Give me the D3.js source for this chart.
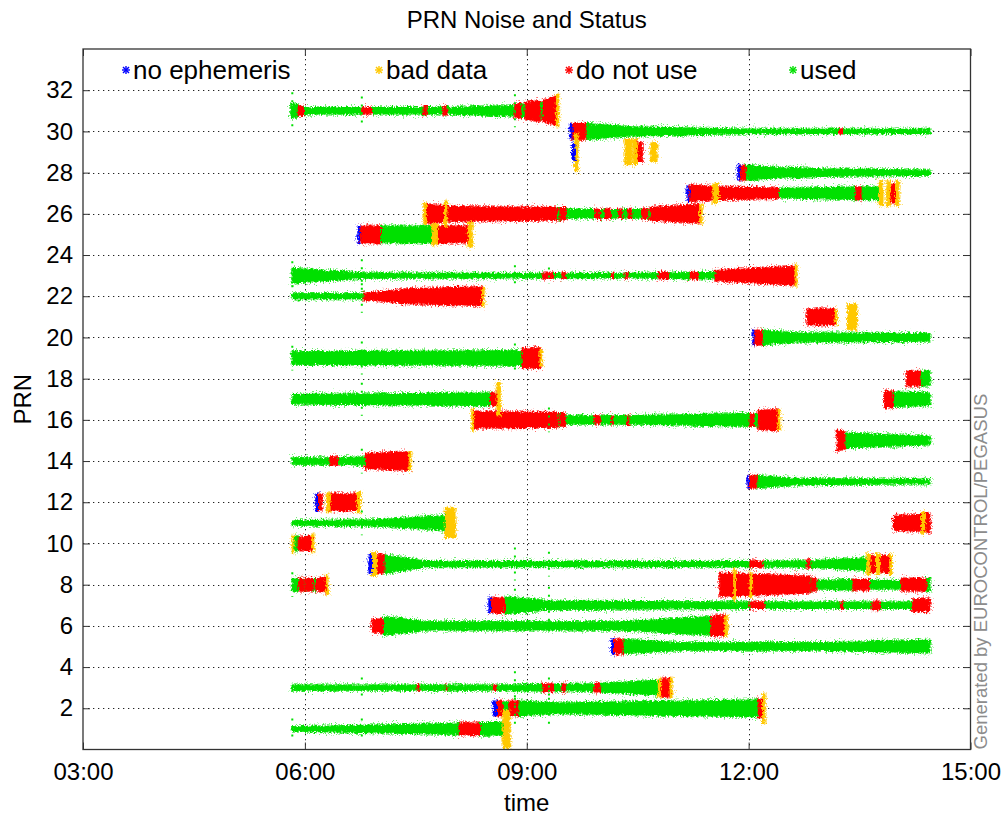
<!DOCTYPE html>
<html><head><meta charset="utf-8">
<script src="https://cdn.jsdelivr.net/npm/d3@7"></script>
<style>
html,body{margin:0;padding:0;background:#fff;}
svg{display:block;font-family:"Liberation Sans",Arial,Helvetica,sans-serif;}
</style></head>
<body>
<svg id="chart" width="1006" height="818"></svg>
<script>
// ---- tick labels / categories ----
const xTickHours = [3, 6, 9, 12, 15];
const xTickLabels = ["03:00", "06:00", "09:00", "12:00", "15:00"];
const yTicks = [2, 4, 6, 8, 10, 12, 14, 16, 18, 20, 22, 24, 26, 28, 30, 32];
const statusNames = ["no ephemeris", "bad data", "do not use", "used"];

// ---- noise band segments: [PRN, start hour, end hour, half-width at start, half-width at end] ----
const noEphemeris = [
  [30, 9.59, 9.61, 0.35, 0.35], [29, 9.62, 9.65, 0.4, 0.4], [28, 11.86, 11.88, 0.35, 0.35],
  [27, 11.17, 11.19, 0.35, 0.35], [25, 6.72, 6.74, 0.4, 0.4], [20, 12.06, 12.07, 0.35, 0.35],
  [13, 11.99, 12.00, 0.3, 0.3], [12, 6.15, 6.17, 0.4, 0.4], [9, 6.87, 6.90, 0.45, 0.45],
  [7, 8.49, 8.51, 0.35, 0.35], [5, 10.15, 10.17, 0.35, 0.35], [2, 8.55, 8.59, 0.35, 0.35]
];
const badData = [
  [31, 9.40, 9.43, 0.7, 0.8], [29, 9.65, 9.69, 0.9, 0.9], [29, 10.33, 10.42, 0.6, 0.6],
  [29, 10.44, 10.49, 0.6, 0.6], [29, 10.68, 10.76, 0.45, 0.45], [27, 11.52, 11.59, 0.45, 0.45],
  [27, 13.77, 13.81, 0.6, 0.6], [27, 13.87, 13.91, 0.6, 0.6], [27, 13.99, 14.03, 0.6, 0.6],
  [26, 7.61, 7.64, 0.5, 0.5], [26, 7.89, 7.92, 0.6, 0.6], [26, 11.34, 11.37, 0.45, 0.45],
  [25, 7.72, 7.79, 0.5, 0.5], [25, 8.21, 8.26, 0.6, 0.6], [23, 12.63, 12.65, 0.5, 0.5],
  [22, 8.40, 8.42, 0.45, 0.45], [21, 13.17, 13.19, 0.38, 0.38], [21, 13.34, 13.46, 0.6, 0.6],
  [19, 9.18, 9.20, 0.4, 0.4], [17, 8.60, 8.64, 0.8, 0.8], [16, 8.26, 8.28, 0.5, 0.5],
  [16, 12.40, 12.42, 0.5, 0.5], [14, 7.41, 7.43, 0.45, 0.45], [12, 6.30, 6.34, 0.45, 0.45],
  [12, 6.71, 6.75, 0.5, 0.5], [11, 7.90, 8.03, 0.7, 0.7], [11, 14.34, 14.38, 0.5, 0.5],
  [10, 5.83, 5.85, 0.4, 0.4], [10, 6.10, 6.12, 0.45, 0.45], [9, 6.90, 6.97, 0.55, 0.55],
  [9, 13.60, 13.64, 0.5, 0.5], [9, 13.73, 13.77, 0.5, 0.5], [9, 13.91, 13.93, 0.5, 0.5],
  [8, 6.29, 6.31, 0.5, 0.5], [8, 11.80, 11.82, 0.8, 0.8], [8, 12.02, 12.04, 0.6, 0.6],
  [6, 11.68, 11.71, 0.5, 0.5], [3, 10.78, 10.81, 0.45, 0.45], [3, 10.94, 10.96, 0.45, 0.45],
  [2, 12.19, 12.22, 0.7, 0.7], [1, 8.68, 8.77, 0.9, 0.9]
];
const doNotUse = [
  [31, 5.91, 5.98, 0.22, 0.22], [31, 6.77, 6.90, 0.15, 0.15], [31, 7.60, 7.65, 0.2, 0.2],
  [31, 7.87, 7.92, 0.2, 0.2], [31, 8.84, 8.92, 0.3, 0.35], [31, 8.98, 9.18, 0.4, 0.5],
  [31, 9.22, 9.40, 0.5, 0.7],
  [30, 9.61, 9.80, 0.38, 0.38], [30, 13.23, 13.27, 0.12, 0.12],
  [29, 10.49, 10.56, 0.45, 0.45],
  [28, 11.88, 11.96, 0.35, 0.35],
  [27, 11.19, 11.52, 0.4, 0.32], [27, 11.59, 12.40, 0.3, 0.25], [27, 13.45, 13.52, 0.3, 0.3],
  [27, 13.92, 13.99, 0.45, 0.45],
  [26, 7.64, 7.88, 0.45, 0.4], [26, 7.92, 9.41, 0.35, 0.3], [26, 9.45, 9.53, 0.3, 0.3],
  [26, 9.92, 9.99, 0.22, 0.22], [26, 10.06, 10.13, 0.22, 0.22], [26, 10.24, 10.29, 0.22, 0.22],
  [26, 10.37, 10.42, 0.22, 0.22], [26, 10.56, 10.63, 0.25, 0.25], [26, 10.67, 11.34, 0.3, 0.45],
  [25, 6.74, 7.02, 0.4, 0.4], [25, 7.79, 8.21, 0.4, 0.4],
  [23, 9.22, 9.36, 0.12, 0.12], [23, 9.48, 9.52, 0.12, 0.12], [23, 10.15, 10.17, 0.12, 0.12],
  [23, 10.33, 10.37, 0.12, 0.12], [23, 10.78, 10.91, 0.15, 0.15], [23, 11.21, 11.32, 0.15, 0.15],
  [23, 11.55, 12.63, 0.25, 0.45],
  [22, 6.80, 7.30, 0.15, 0.3], [22, 7.30, 8.40, 0.35, 0.45],
  [21, 12.79, 13.17, 0.38, 0.38],
  [20, 12.07, 12.18, 0.35, 0.35],
  [19, 8.94, 9.18, 0.45, 0.5],
  [18, 14.14, 14.32, 0.35, 0.35],
  [17, 8.51, 8.60, 0.3, 0.3], [17, 13.84, 13.95, 0.4, 0.4],
  [16, 8.28, 9.42, 0.4, 0.35], [16, 9.45, 9.52, 0.3, 0.3], [16, 9.92, 9.99, 0.2, 0.2],
  [16, 10.15, 10.17, 0.2, 0.2], [16, 10.36, 10.38, 0.22, 0.22], [16, 12.02, 12.07, 0.3, 0.3],
  [16, 12.13, 12.40, 0.45, 0.5],
  [15, 13.20, 13.30, 0.5, 0.4],
  [14, 6.34, 6.45, 0.2, 0.2], [14, 6.82, 7.41, 0.35, 0.45],
  [13, 12.00, 12.11, 0.3, 0.3],
  [12, 6.17, 6.23, 0.4, 0.4], [12, 6.34, 6.71, 0.4, 0.4],
  [11, 13.96, 14.34, 0.35, 0.4], [11, 14.38, 14.45, 0.45, 0.45],
  [10, 5.91, 6.10, 0.3, 0.35],
  [9, 6.97, 7.07, 0.45, 0.45], [9, 12.02, 12.19, 0.15, 0.15], [9, 12.79, 12.83, 0.2, 0.2],
  [9, 13.64, 13.73, 0.4, 0.4], [9, 13.77, 13.91, 0.4, 0.4],
  [8, 5.92, 5.99, 0.3, 0.3], [8, 6.01, 6.11, 0.3, 0.3], [8, 6.15, 6.29, 0.3, 0.35],
  [8, 11.61, 12.83, 0.55, 0.4], [8, 12.85, 12.91, 0.3, 0.3], [8, 13.41, 13.63, 0.25, 0.25],
  [8, 14.07, 14.40, 0.3, 0.3],
  [7, 8.51, 8.70, 0.35, 0.35], [7, 12.02, 12.21, 0.15, 0.15], [7, 13.24, 13.28, 0.15, 0.15],
  [7, 13.67, 13.77, 0.2, 0.2], [7, 14.22, 14.45, 0.3, 0.3],
  [6, 6.91, 7.06, 0.3, 0.3], [6, 11.49, 11.68, 0.45, 0.5],
  [5, 10.17, 10.30, 0.35, 0.35],
  [3, 7.52, 7.54, 0.12, 0.12], [3, 7.90, 7.92, 0.12, 0.12], [3, 8.55, 8.58, 0.12, 0.12],
  [3, 9.22, 9.36, 0.18, 0.18], [3, 9.48, 9.52, 0.18, 0.18], [3, 9.92, 9.99, 0.2, 0.2],
  [3, 10.81, 10.94, 0.4, 0.45],
  [2, 8.59, 8.67, 0.35, 0.35], [2, 8.76, 8.88, 0.35, 0.35], [2, 12.13, 12.19, 0.45, 0.45],
  [1, 8.09, 8.36, 0.28, 0.28]
];
const used = [
  [31, 5.81, 5.91, 0.32, 0.3], [31, 5.98, 6.77, 0.15, 0.15], [31, 6.90, 7.60, 0.15, 0.15],
  [31, 7.65, 7.87, 0.15, 0.15], [31, 7.92, 8.84, 0.15, 0.25], [31, 8.92, 8.98, 0.3, 0.3],
  [31, 9.18, 9.22, 0.4, 0.4],
  [30, 9.80, 10.40, 0.38, 0.22], [30, 10.40, 11.99, 0.22, 0.1], [30, 11.99, 13.23, 0.1, 0.1],
  [30, 13.27, 14.45, 0.1, 0.1],
  [28, 11.96, 12.55, 0.35, 0.2], [28, 12.55, 12.85, 0.25, 0.2], [28, 12.85, 14.45, 0.18, 0.12],
  [27, 12.40, 13.45, 0.22, 0.3], [27, 13.52, 13.76, 0.3, 0.3],
  [26, 9.41, 9.45, 0.3, 0.3], [26, 9.53, 9.92, 0.2, 0.2], [26, 9.99, 10.06, 0.2, 0.2],
  [26, 10.13, 10.24, 0.2, 0.2], [26, 10.29, 10.37, 0.2, 0.2], [26, 10.42, 10.56, 0.2, 0.2],
  [26, 10.63, 10.67, 0.25, 0.25],
  [25, 7.02, 7.72, 0.4, 0.4],
  [23, 5.83, 6.80, 0.35, 0.12], [23, 6.80, 9.22, 0.12, 0.1], [23, 9.36, 9.48, 0.1, 0.1],
  [23, 9.52, 10.15, 0.1, 0.1], [23, 10.17, 10.33, 0.1, 0.1], [23, 10.37, 10.78, 0.1, 0.12],
  [23, 10.91, 11.21, 0.12, 0.15], [23, 11.32, 11.55, 0.15, 0.15],
  [22, 5.83, 6.80, 0.12, 0.12],
  [20, 12.18, 12.60, 0.35, 0.22], [20, 12.60, 14.45, 0.22, 0.18],
  [19, 5.83, 8.94, 0.3, 0.35],
  [18, 14.32, 14.45, 0.35, 0.35],
  [17, 5.83, 8.51, 0.22, 0.3], [17, 13.95, 14.45, 0.35, 0.3],
  [16, 9.42, 9.45, 0.3, 0.3], [16, 9.52, 9.92, 0.2, 0.2], [16, 9.99, 10.15, 0.2, 0.2],
  [16, 10.17, 10.36, 0.2, 0.2], [16, 10.38, 12.02, 0.2, 0.3], [16, 12.07, 12.13, 0.3, 0.3],
  [15, 13.30, 14.45, 0.35, 0.2],
  [14, 5.83, 6.34, 0.15, 0.15], [14, 6.45, 6.82, 0.15, 0.2],
  [13, 12.11, 12.60, 0.3, 0.15], [13, 12.60, 14.45, 0.15, 0.1],
  [11, 5.83, 7.00, 0.1, 0.15], [11, 7.00, 7.90, 0.15, 0.35],
  [10, 5.85, 5.91, 0.35, 0.35],
  [9, 7.07, 7.60, 0.45, 0.15], [9, 7.60, 12.02, 0.12, 0.12], [9, 12.19, 12.79, 0.12, 0.15],
  [9, 12.83, 13.60, 0.15, 0.3],
  [8, 5.83, 5.92, 0.3, 0.3], [8, 5.99, 6.01, 0.3, 0.3], [8, 6.11, 6.15, 0.3, 0.3],
  [8, 12.83, 12.85, 0.3, 0.3], [8, 12.91, 13.41, 0.2, 0.25], [8, 13.63, 14.07, 0.2, 0.2],
  [8, 14.40, 14.45, 0.3, 0.3],
  [7, 8.70, 9.20, 0.4, 0.25], [7, 9.20, 12.02, 0.2, 0.15], [7, 12.21, 13.24, 0.15, 0.15],
  [7, 13.28, 13.67, 0.15, 0.15], [7, 13.77, 14.22, 0.15, 0.15],
  [6, 7.06, 7.60, 0.45, 0.22], [6, 7.60, 10.30, 0.2, 0.2], [6, 10.30, 11.49, 0.2, 0.45],
  [5, 10.30, 11.00, 0.35, 0.2], [5, 11.00, 13.00, 0.18, 0.18], [5, 13.00, 14.45, 0.18, 0.3],
  [3, 5.83, 7.52, 0.12, 0.12], [3, 7.54, 7.90, 0.12, 0.12], [3, 7.92, 8.55, 0.12, 0.12],
  [3, 8.58, 9.22, 0.12, 0.15], [3, 9.36, 9.48, 0.15, 0.15], [3, 9.52, 9.92, 0.15, 0.18],
  [3, 9.99, 10.78, 0.2, 0.35],
  [2, 8.67, 8.76, 0.3, 0.3], [2, 8.88, 9.40, 0.35, 0.25], [2, 9.40, 12.13, 0.25, 0.4],
  [1, 5.83, 7.90, 0.1, 0.25], [1, 7.90, 8.09, 0.25, 0.28], [1, 8.36, 8.68, 0.3, 0.3]
];
// sparse outlier columns of "used" samples: [PRN, hour, half-height]
const outlierSpikes = [
  [31, 5.83, 0.9], [23, 5.83, 0.7], [19, 5.83, 0.6], [8, 5.83, 0.6], [1, 5.83, 0.5],
  [31, 6.77, 0.7], [23, 6.77, 0.8], [22, 6.77, 0.8], [19, 6.77, 0.8], [17, 6.77, 0.8],
  [14, 6.77, 0.6], [11, 6.77, 0.6], [3, 6.77, 0.5], [1, 6.77, 0.5],
  [31, 8.84, 0.8], [23, 8.84, 0.5], [19, 8.84, 0.7], [9, 8.84, 0.8], [7, 8.84, 0.8],
  [3, 8.84, 0.8], [2, 8.84, 0.9],
  [23, 9.30, 0.4], [16, 9.30, 0.6], [9, 9.30, 0.6], [7, 9.30, 0.9], [3, 9.30, 0.5], [2, 9.30, 0.9]
];

// ---- layout ----
const W = 1006, H = 818;
const mLeft = 83, mRight = 970.5, mTop = 49, mBottom = 749.5;
const colors = {"no ephemeris": "#0000ff", "bad data": "#ffc800", "do not use": "#ff0000", "used": "#00e000"};

const x = d3.scaleLinear().domain([3, 15]).range([mLeft, mRight]);
const y = d3.scaleLinear().domain([0, 34]).range([mBottom, mTop]);

const svg = d3.select("#chart");
const defs = svg.append("defs");
defs.append("clipPath").attr("id", "plotClip").append("rect")
  .attr("x", mLeft).attr("y", mTop).attr("width", mRight - mLeft).attr("height", mBottom - mTop);
function noiseFilter(id, freq, scale, seed) {
  const flt = defs.append("filter").attr("id", id).attr("filterUnits", "userSpaceOnUse")
    .attr("x", 0).attr("y", 0).attr("width", W).attr("height", H);
  flt.append("feTurbulence").attr("type", "fractalNoise").attr("baseFrequency", freq)
    .attr("numOctaves", 2).attr("seed", seed).attr("result", "turb");
  flt.append("feDisplacementMap").attr("in", "SourceGraphic").attr("in2", "turb")
    .attr("scale", scale).attr("xChannelSelector", "R").attr("yChannelSelector", "G");
}
noiseFilter("noise", "0.6 0.4", 6, 3);
noiseFilter("halo", "0.9 0.7", 13, 7);

svg.append("rect").attr("width", W).attr("height", H).attr("fill", "#fff");

// grid
const grid = svg.append("g").attr("stroke", "#222").attr("stroke-width", 1)
  .attr("stroke-dasharray", "1.3,3.7");
grid.selectAll("line.gy").data(yTicks).join("line").attr("class", "gy")
  .attr("x1", mLeft).attr("x2", mRight)
  .attr("y1", d => Math.round(y(d)) + 0.5).attr("y2", d => Math.round(y(d)) + 0.5);
grid.selectAll("line.gx").data(xTickHours.slice(1, -1)).join("line").attr("class", "gx")
  .attr("y1", mTop).attr("y2", mBottom)
  .attr("x1", d => Math.round(x(d)) + 0.5).attr("x2", d => Math.round(x(d)) + 0.5);

// bands
const plot = svg.append("g").attr("clip-path", "url(#plotClip)");
const area = d3.area().x(d => x(d[0])).y0(d => y(d[1] - d[2])).y1(d => y(d[1] + d[2]));
const layers = [["used", used], ["do not use", doNotUse], ["bad data", badData], ["no ephemeris", noEphemeris]];
function drawBands(parent, filterId, strokeW, opacity) {
  const g = parent.append("g").attr("filter", `url(#${filterId})`).attr("opacity", opacity);
  layers.forEach(([name, segs]) => {
    g.append("g").selectAll("path").data(segs).join("path")
      .attr("fill", colors[name])
      .attr("stroke", colors[name]).attr("stroke-width", strokeW)
      .attr("d", s => area([[s[1], s[0], s[3]], [s[2], s[0], s[4]]]));
  });
}
drawBands(plot, "halo", 1.5, 0.55);
drawBands(plot, "noise", 1.2, 1);
plot.append("g").selectAll("line").data(outlierSpikes).join("line")
  .attr("stroke", colors["used"]).attr("stroke-width", 2).attr("stroke-dasharray", "2,6")
  .attr("x1", d => x(d[1])).attr("x2", d => x(d[1]))
  .attr("y1", d => y(d[0] + d[2])).attr("y2", d => y(d[0] - d[2]));

// axes (MATLAB-style inward ticks, box)
const axisCol = "#333";
const ax = svg.append("g");
const tickLen = 7;
ax.append("g").attr("transform", `translate(0,${mBottom})`)
  .call(d3.axisBottom(x).tickValues(xTickHours).tickFormat((d, i) => xTickLabels[i])
    .tickSizeInner(-tickLen).tickSizeOuter(0).tickPadding(13))
  .call(g => g.select(".domain").remove());
ax.append("g").attr("transform", `translate(0,${mTop})`)
  .call(d3.axisTop(x).tickValues(xTickHours).tickFormat("").tickSizeInner(-tickLen).tickSizeOuter(0))
  .call(g => g.select(".domain").remove());
ax.append("g").attr("transform", `translate(${mLeft},0)`)
  .call(d3.axisLeft(y).tickValues(yTicks).tickSizeInner(-tickLen).tickSizeOuter(0).tickPadding(10))
  .call(g => g.select(".domain").remove());
ax.append("g").attr("transform", `translate(${mRight},0)`)
  .call(d3.axisRight(y).tickValues(yTicks).tickFormat("").tickSizeInner(-tickLen).tickSizeOuter(0))
  .call(g => g.select(".domain").remove());
ax.selectAll(".tick line").attr("stroke", axisCol);
ax.selectAll(".tick text").attr("fill", "#000").attr("font-size", 24)
  .attr("font-family", "'Liberation Sans', Arial, sans-serif");
svg.append("rect").attr("x", mLeft).attr("y", mTop).attr("width", mRight - mLeft).attr("height", mBottom - mTop)
  .attr("fill", "none").attr("stroke", axisCol).attr("stroke-width", 1.3);

// titles
svg.append("text").attr("x", (mLeft + mRight) / 2).attr("y", 28).attr("text-anchor", "middle")
  .attr("font-size", 24).text("PRN Noise and Status");
svg.append("text").attr("x", (mLeft + mRight) / 2).attr("y", 811).attr("text-anchor", "middle")
  .attr("font-size", 24).text("time");
svg.append("text").attr("transform", `translate(31,${(mTop + mBottom) / 2}) rotate(-90)`)
  .attr("text-anchor", "middle").attr("font-size", 24).text("PRN");
svg.append("text").attr("transform", `translate(987,${mBottom}) rotate(-90)`)
  .attr("text-anchor", "start").attr("font-size", 18.5).attr("fill", "#8c8c8c")
  .text("Generated by EUROCONTROL/PEGASUS");

// legend
const legendX = [126, 379, 569, 793];
const lg = svg.append("g");
statusNames.forEach((name, i) => {
  const cx = legendX[i], cy = 70;
  const g = lg.append("g").attr("stroke", colors[name]).attr("stroke-width", 1.4);
  [[-4, 0, 4, 0], [0, -4, 0, 4], [-3, -3, 3, 3], [-3, 3, 3, -3]].forEach(l =>
    g.append("line").attr("x1", cx + l[0]).attr("y1", cy + l[1]).attr("x2", cx + l[2]).attr("y2", cy + l[3]));
  lg.append("text").attr("x", cx + 7).attr("y", cy + 9).attr("font-size", 26).text(name);
});
</script>
</body></html>
